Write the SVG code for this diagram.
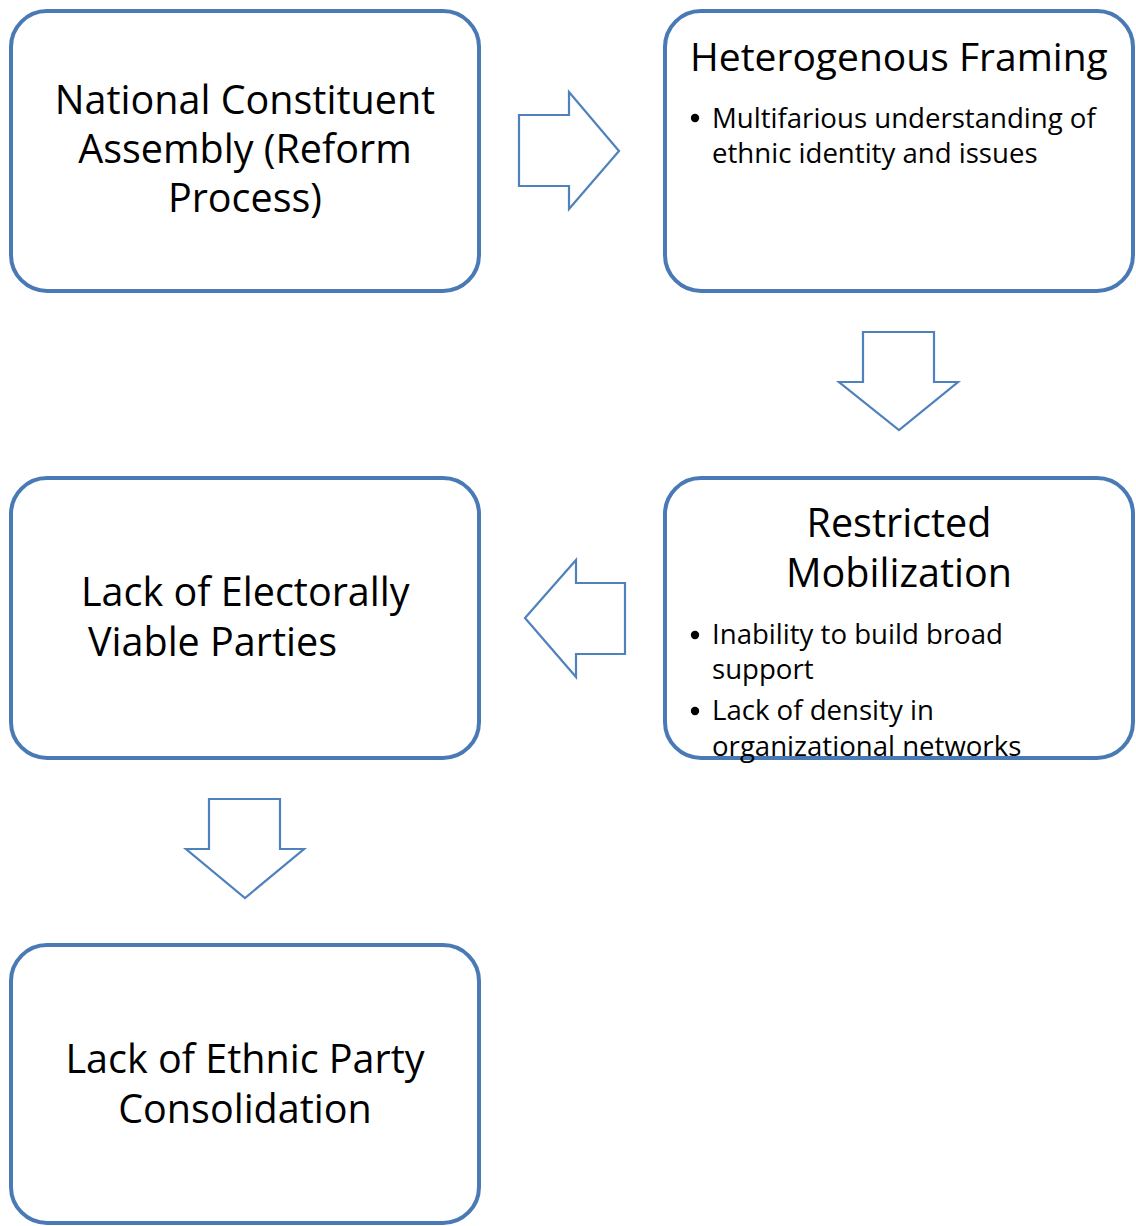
<svg xmlns="http://www.w3.org/2000/svg" width="1136" height="1226" viewBox="0 0 1136 1226">
<style>
.box{fill:#fff;stroke:#4A7AB5;stroke-width:4}
.arr{fill:#fff;stroke:#4F81BD;stroke-width:2.2;stroke-linejoin:miter}
.t{font-family:"Open Sans","Noto Sans",sans-serif;fill:#000}
.h{font-size:39.5px}
.h2{font-size:39px}
.b{font-size:27.6px}
</style>
<rect width="1136" height="1226" fill="#fff"/>
<g id="connectors">
<path class="arr" d="M519,115 H569 V92 L619,151 L569,209 V186 H519 Z"/>
<path class="arr" d="M863,332 H934 V382 H958 L899,430 L839,382 H863 Z"/>
<path class="arr" d="M625,583 V654 H576 V677 L525,618 L576,560 V583 Z"/>
<path class="arr" d="M209,799 H280 V849 H304 L245,898 L186,849 H209 Z"/>
</g>
<g id="n1">
<rect class="box" x="11" y="11" width="468" height="280" rx="36"/>
<text class="t h" text-anchor="middle" x="245" y="114">National Constituent</text>
<text class="t h" text-anchor="middle" x="245" y="163">Assembly (Reform</text>
<text class="t h" text-anchor="middle" x="245" y="212">Process)</text>
</g>
<g id="n2">
<rect class="box" x="665" y="11" width="468" height="280" rx="36"/>
<text class="t h2" x="690" y="71">Heterogenous Framing</text>
<circle cx="695" cy="118" r="4.2"/>
<text class="t b" x="712" y="128">Multifarious understanding of</text>
<text class="t b" x="712" y="163">ethnic identity and issues</text>
</g>
<g id="n3">
<rect class="box" x="665" y="478" width="468" height="280" rx="36"/>
<text class="t h" text-anchor="middle" x="899" y="537">Restricted</text>
<text class="t h" text-anchor="middle" x="899" y="587">Mobilization</text>
<circle cx="695" cy="635" r="4.2"/>
<text class="t b" x="712" y="644">Inability to build broad</text>
<text class="t b" x="712" y="679">support</text>
<circle cx="695" cy="711" r="4.2"/>
<text class="t b" x="712" y="720">Lack of density in</text>
<text class="t b" x="712" y="756">organizational networks</text>
</g>
<g id="n4">
<rect class="box" x="11" y="478" width="468" height="280" rx="36"/>
<text class="t h" x="81" y="606">Lack of Electorally</text>
<text class="t h" x="88" y="656">Viable Parties</text>
</g>
<g id="n5">
<rect class="box" x="11" y="945" width="468" height="278" rx="36"/>
<text class="t h" text-anchor="middle" x="245" y="1073">Lack of Ethnic Party</text>
<text class="t h" text-anchor="middle" x="245" y="1123">Consolidation</text>
</g>
</svg>
